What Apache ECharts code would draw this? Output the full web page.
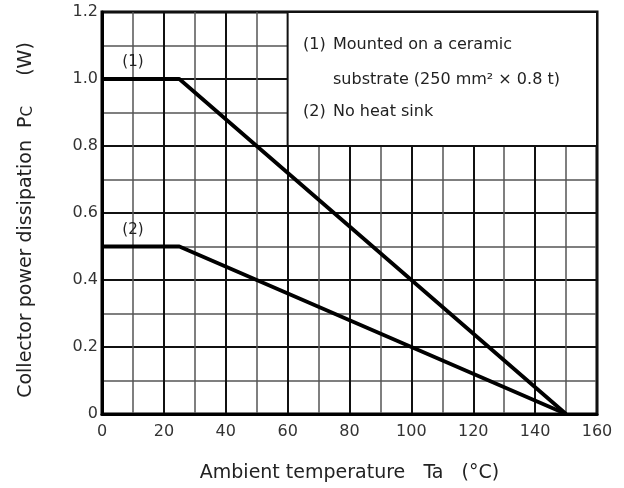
<!DOCTYPE html>
<html>
<head>
<meta charset="utf-8">
<script src="https://cdn.jsdelivr.net/npm/echarts@6/dist/echarts.min.js"></script>
<style>
html,body{margin:0;padding:0;background:#fff;}
#main{width:624px;height:488px;}
</style>
</head>
<body>
<div id="main"></div>
<script>
// derating curves (Ta, Pc)
var curve1 = [[0, 1.0], [25, 1.0], [150, 0]];
var curve2 = [[0, 0.5], [25, 0.5], [150, 0]];
var curveNames = ['(1)', '(2)'];
var curveLabelAt = [[10, 1.05], [10, 0.55]];
// white note box in the upper right
var noteBox = [[60, 0.8], [160, 1.2]];

var FONT = 'DejaVu Sans';
var chart = echarts.init(document.getElementById('main'));

function txt(x, y, s){
	return {
		type: 'text', x: x, y: y, z: 100,
		style: {text: s, fill: '#222', font: '16px "' + FONT + '"', verticalAlign: 'middle'}
	};
}

var option = {
	backgroundColor: '#fff',
	animation: false,
	grid: {
		left: 102, right: 27, top: 12, bottom: 71,
		show: true, borderColor: '#000', borderWidth: 3, backgroundColor: 'transparent'
	},
	xAxis: {
		type: 'value', min: 0, max: 160, interval: 20,
		name: 'Ambient temperature   Ta   (°C)',
		nameLocation: 'middle', nameGap: 50,
		nameTextStyle: {fontFamily: FONT, fontSize: 19, color: '#222'},
		axisLine: {show: true, lineStyle: {color: '#000', width: 3}},
		axisTick: {show: false},
		axisLabel: {fontFamily: FONT, fontSize: 16, color: '#333', margin: 10},
		minorTick: {show: false, splitNumber: 2},
		splitLine: {show: true, lineStyle: {color: '#111', width: 2}},
		minorSplitLine: {show: true, lineStyle: {color: '#555', width: 1.5}}
	},
	yAxis: {
		type: 'value', min: 0, max: 1.2, interval: 0.2,
		name: 'Collector power dissipation  P{sub|C}     (W)',
		nameLocation: 'middle', nameGap: 66, nameRotate: 90,
		nameTextStyle: {
			fontFamily: FONT, fontSize: 19, color: '#222', padding: [0, 14, 0, 0],
			rich: {sub: {fontFamily: FONT, fontSize: 15, color: '#222', padding: [4, 0, 0, 0]}}
		},
		axisLine: {show: true, lineStyle: {color: '#000', width: 3}},
		axisTick: {show: false},
		axisLabel: {
			fontFamily: FONT, fontSize: 16, color: '#333', margin: 4,
			formatter: function(v){ return v === 0 ? '0' : v.toFixed(1); }
		},
		minorTick: {show: false, splitNumber: 2},
		splitLine: {show: true, lineStyle: {color: '#111', width: 2}},
		minorSplitLine: {show: true, lineStyle: {color: '#555', width: 1.5}}
	},
	graphic: [
		txt(303, 45, '(1)'), txt(333, 45, 'Mounted on a ceramic'),
		txt(333, 80, 'substrate (250 mm² × 0.8 t)'),
		txt(303, 112, '(2)'), txt(333, 112, 'No heat sink')
	],
	series: [{
		type: 'line', data: curve1, symbol: 'none', z: 5,
		lineStyle: {color: '#000', width: 3.8},
		markArea: {
			silent: true,
			itemStyle: {color: '#fff', borderColor: '#111', borderWidth: 2},
			data: [[{coord: noteBox[0]}, {coord: noteBox[1]}]]
		},
		markPoint: {
			symbol: 'circle', symbolSize: 0,
			label: {show: true, position: 'inside', formatter: curveNames[0], fontFamily: FONT, fontSize: 15, color: '#222'},
			data: [{coord: curveLabelAt[0]}]
		}
	}, {
		type: 'line', data: curve2, symbol: 'none', z: 5,
		lineStyle: {color: '#000', width: 3.8},
		markPoint: {
			symbol: 'circle', symbolSize: 0,
			label: {show: true, position: 'inside', formatter: curveNames[1], fontFamily: FONT, fontSize: 15, color: '#222'},
			data: [{coord: curveLabelAt[1]}]
		}
	}]
};
chart.setOption(option);
</script>
</body>
</html>
